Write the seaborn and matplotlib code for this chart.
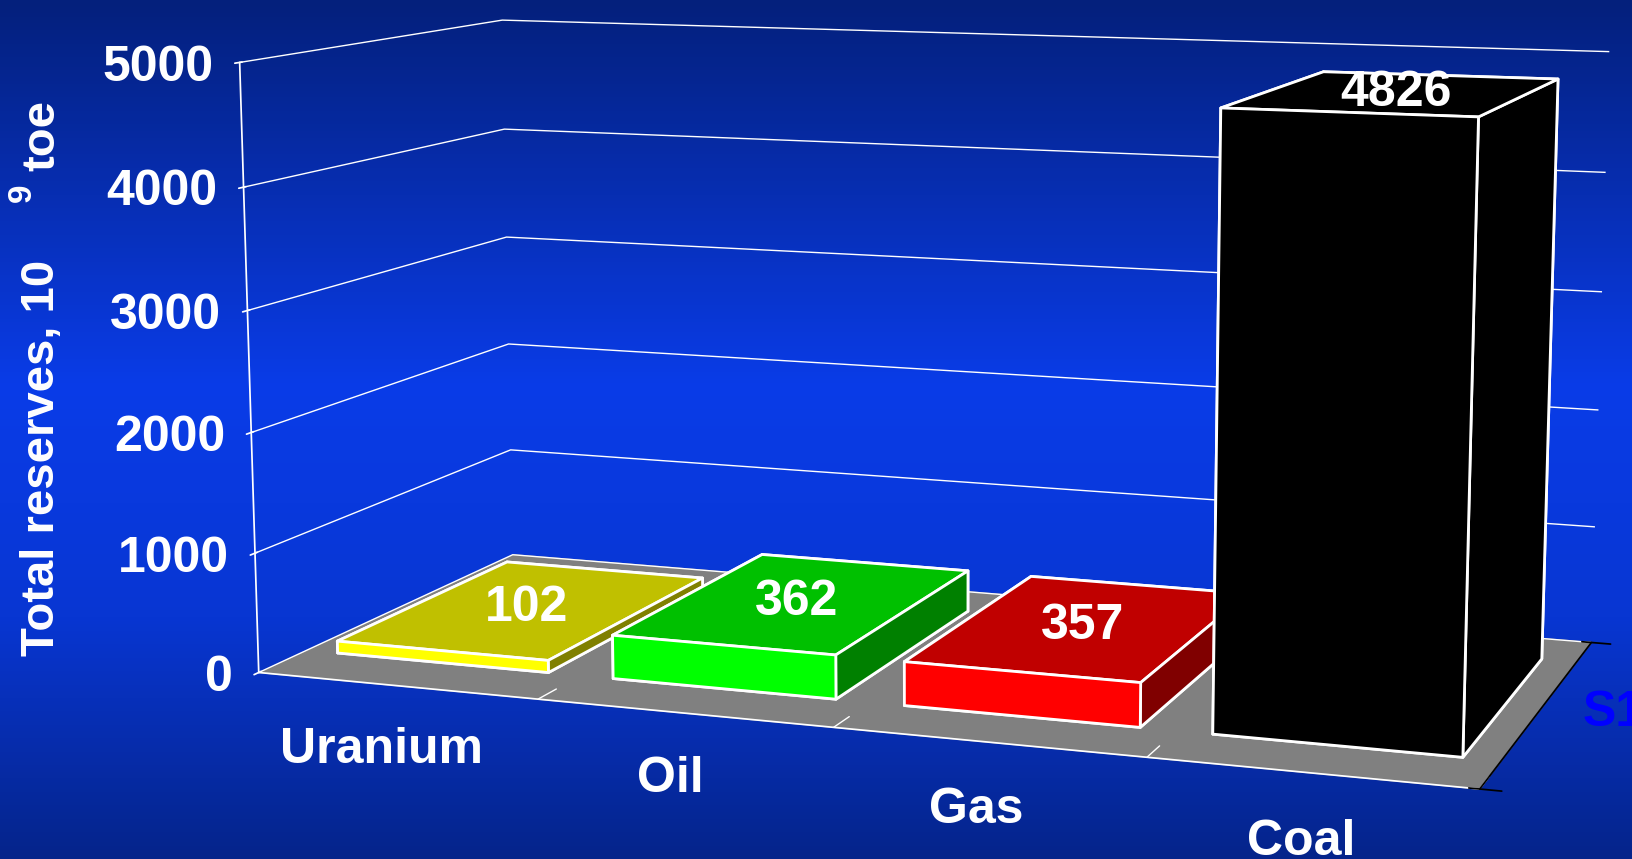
import numpy as np
import pandas as pd
import matplotlib
matplotlib.use("Agg")
import matplotlib.pyplot as plt
import seaborn as sns
from matplotlib.colors import LinearSegmentedColormap

categories = ["Uranium", "Oil", "Gas", "Coal"]
reserves = [102, 362, 357, 4826]
series_name = "S1"
z_ticks = [0, 1000, 2000, 3000, 4000, 5000]

front_colors = ["#ffff00", "#00ff00", "#ff0000", "#000000"]
top_colors = ["#c0c000", "#00c000", "#c00000", "#000000"]
side_colors = ["#808000", "#008000", "#800000", "#000000"]

df = pd.DataFrame({"fuel": categories, "reserves": reserves})

sns.set_theme(style="white")
plt.rcParams["font.family"] = ["Liberation Sans", "DejaVu Sans"]
plt.rcParams["font.weight"] = "bold"

fig = plt.figure(figsize=(16.33, 8.59), dpi=100)

# slide-style blue gradient behind everything
bg = fig.add_axes([0, 0, 1, 1], zorder=-10)
grad = LinearSegmentedColormap.from_list(
    "bg", [(0, "#04207c"), (0.45, "#0a3ce8"), (0.72, "#0836d2"), (1, "#05248a")])
bg.imshow(np.linspace(0, 1, 256)[:, None], aspect="auto", cmap=grad,
          extent=[0, 1, 0, 1])
bg.set_axis_off()

ax = fig.add_axes([0.066, 0.066, 1.0, 1.0], projection="3d")
ax.patch.set_alpha(0)
ax.set_proj_type("persp", focal_length=0.8)
ax.view_init(elev=9.6, azim=-70.3)
ax.set_box_aspect((1, 0.465, 0.495), zoom=1.68)
ax.computed_zorder = False

# one colour per face: -z, +z, -y, +y, -x, +x
face_colors = []
for f, t, s in zip(front_colors, top_colors, side_colors):
    face_colors += [s, t, f, s, s, s]

xpos = np.arange(len(categories))
w = 0.77
depth = 0.68
bars = ax.bar3d(xpos - w / 2, np.full(len(xpos), 0.17), np.zeros(len(xpos)),
                w, depth, df["reserves"], color=face_colors, edgecolor="white",
                linewidth=2, shade=False)
bars.set_clip_on(False)

ax.set_xlim(-0.5, len(categories) - 0.5)
ax.set_ylim(0, 1)
ax.set_zlim(0, 5000)

for a in (ax.xaxis, ax.yaxis):
    a.set_pane_color((0, 0, 0, 0))
    a.pane.set_edgecolor("white")
ax.zaxis.set_pane_color("#808080")
ax.zaxis.pane.set_edgecolor("#808080")

ax.grid(True)
ax.xaxis._axinfo["grid"]["color"] = (1, 1, 1, 0)
ax.yaxis._axinfo["grid"]["color"] = (1, 1, 1, 0)
ax.zaxis._axinfo["grid"]["color"] = "white"
ax.zaxis._axinfo["grid"]["linewidth"] = 1
ax.xaxis._axinfo["tick"]["inward_factor"] = 0.0
ax.xaxis._axinfo["tick"]["outward_factor"] = 0.9

ax.xaxis.line.set_color("white")
ax.yaxis.line.set_color("black")
ax.zaxis.line.set_color("white")
ax.zaxis.set_ticks_position("lower")

ax.set_xticks(xpos, categories)
ax.set_xticks(xpos + 0.5, minor=True)
ax.set_yticks([0, 1], ["", ""])
ax.set_zticks(z_ticks, [str(t) for t in z_ticks])
ax.tick_params(axis="x", colors="white", color=(0, 0, 0, 0), labelsize=36, pad=10)
ax.tick_params(axis="x", which="minor", color="white")
ax.tick_params(axis="y", color="black")
ax.tick_params(axis="z", colors="white", labelsize=36, pad=-2)
for lab in ax.zaxis.get_majorticklabels():
    lab.set_ha("right")
    lab.set_va("center_baseline")

for xi, v in zip(xpos, df["reserves"]):
    ax.text(xi, 0.17 + depth / 2, v, f"{v}", ha="center", va="center",
            color="white", fontsize=36, fontweight="bold", zorder=10)

# series name sits beside the depth axis, partly past the right edge
fig.text(0.969, 0.170, series_name, ha="left", va="center", color="#0000ff",
         fontsize=36, fontweight="bold")

fig.text(0.026, 0.467, "Total reserves, 10", rotation=90, ha="center",
         va="center", color="white", fontsize=34, fontweight="bold")
fig.text(0.014, 0.776, "9", rotation=90, ha="center", va="center",
         color="white", fontsize=24, fontweight="bold")
fig.text(0.026, 0.842, "toe", rotation=90, ha="center", va="center",
         color="white", fontsize=34, fontweight="bold")

fig.savefig("out.png", dpi=100)
